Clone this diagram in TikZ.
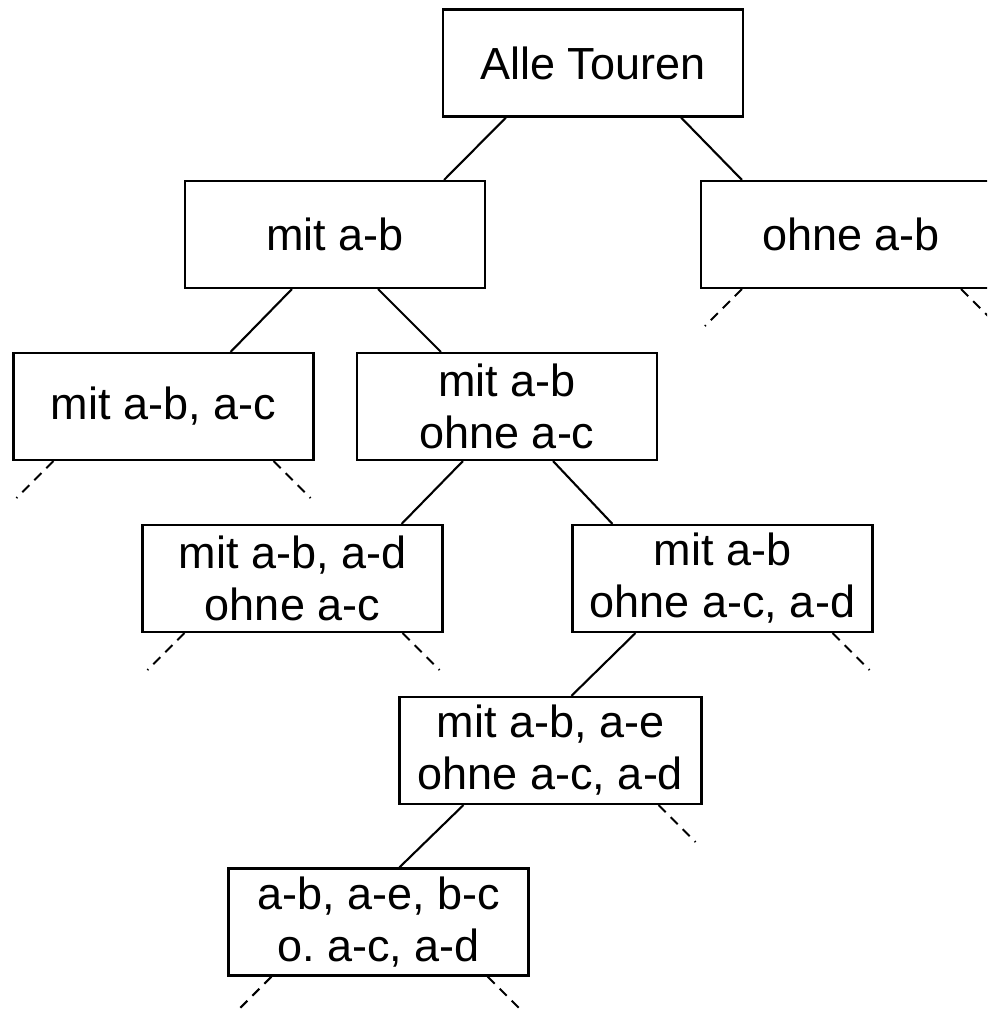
\documentclass[tikz,border=0pt]{standalone}
\usepackage{fontspec}
\setmainfont{Liberation Sans}
\begin{document}
\begin{tikzpicture}[x=1pt,y=-1pt,
  box/.style={draw, line width=2.2pt, minimum width=300pt, minimum height=107pt, inner sep=0pt, align=center, font=\fontsize{45}{52}\selectfont},
  edge/.style={line width=2.1pt},
  stub/.style={line width=2.1pt, dash pattern=on 10pt off 7pt}]
\useasboundingbox (0,0) rectangle (987,1011);
\clip (0,0) rectangle (987,1011);
\node[box] (B1) at (593,63) {Alle Touren};
\node[box] (B2) at (335,234.5) {mit a-b};
\node[box] (B3) at (851,234.5) {ohne a-b};
\node[box] (B4) at (163.5,406.5) {mit a-b, a-c};
\node[box] (B5) at (507,406.5) {mit a-b\\ohne a-c};
\node[box] (B6) at (292.5,578.5) {mit a-b, a-d\\ohne a-c};
\node[box] (B7) at (722.5,578.5) {mit a-b\\ohne a-c, a-d};
\node[box, minimum width=302pt] (B8) at (550.5,750.5) {mit a-b, a-e\\ohne a-c, a-d};
\node[box] (B9) at (378.5,922) {a-b, a-e, b-c\\o.\ a-c, a-d};
% solid connectors
\draw[edge] ([xshift=64pt]B1.south west) -- ([xshift=-42pt]B2.north east);
\draw[edge] ([xshift=-63pt]B1.south east) -- ([xshift=42pt]B3.north west);
\draw[edge] ([xshift=108pt]B2.south west) -- ([xshift=-84pt]B4.north east);
\draw[edge] ([xshift=-108pt]B2.south east) -- ([xshift=85pt]B5.north west);
\draw[edge] ([xshift=107pt]B5.south west) -- ([xshift=-42pt]B6.north east);
\draw[edge] ([xshift=-105pt]B5.south east) -- ([xshift=41pt]B7.north west);
\draw[edge] ([xshift=64pt]B7.south west) -- ([xshift=173pt]B8.north west);
\draw[edge] ([xshift=65pt]B8.south west) -- ([xshift=172pt]B9.north west);
% dashed stubs
\draw[stub] ([xshift=42pt]B3.south west) -- ++(-37,37);
\draw[stub] ([xshift=-41pt]B3.south east) -- ++(37,37);
\draw[stub] ([xshift=41pt]B4.south west) -- ++(-37,37);
\draw[stub] ([xshift=-41pt]B4.south east) -- ++(37,37);
\draw[stub] ([xshift=43pt]B6.south west) -- ++(-37,37);
\draw[stub] ([xshift=-41pt]B6.south east) -- ++(37,37);
\draw[stub] ([xshift=-41pt]B7.south east) -- ++(37,37);
\draw[stub] ([xshift=-44pt]B8.south east) -- ++(37,37);
\draw[stub] ([xshift=44pt]B9.south west) -- ++(-37,37);
\draw[stub] ([xshift=-42pt]B9.south east) -- ++(37,37);
\end{tikzpicture}
\end{document}
